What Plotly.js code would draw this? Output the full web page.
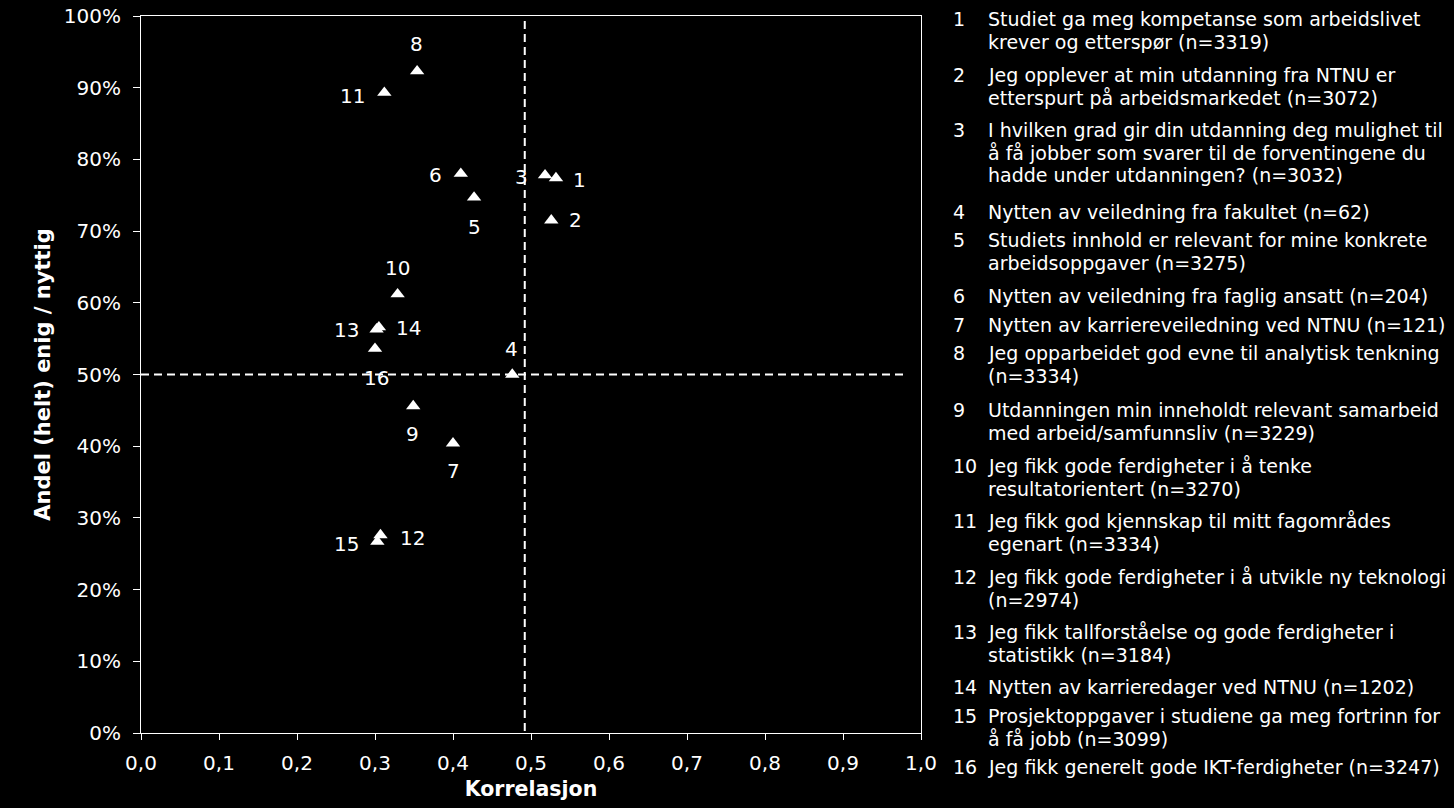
<!DOCTYPE html>
<html>
<head>
<meta charset="utf-8">
<script src="https://cdn.plot.ly/plotly-3.0.1.min.js"></script>
<style>
html,body{margin:0;padding:0;background:#000;}
#chart{width:1454px;height:808px;}
</style>
</head>
<body>
<div id="chart"></div>
<script>
// ---- data ----
const pointLabels = ['1','2','3','4','5','6','7','8','9','10','11','12','13','14','15','16'];
const correlation = [0.532,0.526,0.518,0.476,0.427,0.410,0.400,0.354,0.349,0.329,0.312,0.307,0.302,0.305,0.303,0.300];
const shareAgree = [77.4,71.5,77.8,50.0,74.7,78.0,40.4,92.3,45.6,61.2,89.3,27.6,56.3,56.6,26.7,53.6];
const refCorrelation = 0.492;
const refShare = 50;
const xTickVals = [0,0.1,0.2,0.3,0.4,0.5,0.6,0.7,0.8,0.9,1.0];
const xTickText = ['0,0','0,1','0,2','0,3','0,4','0,5','0,6','0,7','0,8','0,9','1,0'];
const yTickVals = [0,10,20,30,40,50,60,70,80,90,100];
const yTickText = ['0%','10%','20%','30%','40%','50%','60%','70%','80%','90%','100%'];
const legendNumbers = ['1','2','3','4','5','6','7','8','9','10','11','12','13','14','15','16'];
const legendTexts = [
  'Studiet ga meg kompetanse som arbeidslivet<br>krever og etterspør (n=3319)',
  'Jeg opplever at min utdanning fra NTNU er<br>etterspurt på arbeidsmarkedet (n=3072)',
  'I hvilken grad gir din utdanning deg mulighet til<br>å få jobber som svarer til de forventingene du<br>hadde under utdanningen? (n=3032)',
  'Nytten av veiledning fra fakultet (n=62)',
  'Studiets innhold er relevant for mine konkrete<br>arbeidsoppgaver (n=3275)',
  'Nytten av veiledning fra faglig ansatt (n=204)',
  'Nytten av karriereveiledning ved NTNU (n=121)',
  'Jeg opparbeidet god evne til analytisk tenkning<br>(n=3334)',
  'Utdanningen min inneholdt relevant samarbeid<br>med arbeid/samfunnsliv (n=3229)',
  'Jeg fikk gode ferdigheter i å tenke<br>resultatorientert (n=3270)',
  'Jeg fikk god kjennskap til mitt fagområdes<br>egenart (n=3334)',
  'Jeg fikk gode ferdigheter i å utvikle ny teknologi<br>(n=2974)',
  'Jeg fikk tallforståelse og gode ferdigheter i<br>statistikk (n=3184)',
  'Nytten av karrieredager ved NTNU (n=1202)',
  'Prosjektoppgaver i studiene ga meg fortrinn for<br>å få jobb (n=3099)',
  'Jeg fikk generelt gode IKT-ferdigheter (n=3247)'
];

// ---- layout / style ----
const W = 1454, H = 808;
const M = {l:141, r:533, t:16, b:75};
const plotW = W - M.l - M.r, plotH = H - M.t - M.b;
const FONT = 'DejaVu Sans, Verdana, sans-serif';
// label offsets (pixels) per point label
const labelOffset = {
  '1':[24,-2],'2':[24,0],'3':[-24,-2],'4':[-1,26],'5':[0,-30],'6':[-25,-1],
  '7':[0,-28],'8':[-1,27],'9':[-1,-28],'10':[0,26],'11':[-32,-3],'12':[32,-3],
  '13':[-30,-1],'14':[30,-1],'15':[-31,-2],'16':[1,-29]
};
// first-line centre (pixel y) of each legend entry
const legendLineY = [19,75,130,212,240,296,325,353,410,466,521,577,632,687,716,767];
const legendLineGap = 22.7;

const pxX = px => (px - M.l) / plotW;
const pxY = py => (M.t + plotH - py) / plotH;

const traces = [
  {
    x: [refCorrelation, refCorrelation], y: [99.3, 0], mode: 'lines',
    line: {color: '#fff', width: 2, dash: '8px,5px'}, hoverinfo: 'skip', showlegend: false
  },
  {
    x: [0, 0.982], y: [refShare, refShare], mode: 'lines',
    line: {color: '#fff', width: 2, dash: '8px,5px'}, hoverinfo: 'skip', showlegend: false
  },
  {
    x: correlation, y: shareAgree, mode: 'markers', text: pointLabels,
    marker: {symbol: 'triangle-up', size: 12.5, color: '#fff'},
    showlegend: false
  }
];

const annotations = [];
pointLabels.forEach((lab, i) => {
  const o = labelOffset[lab];
  annotations.push({
    x: correlation[i], y: shareAgree[i], xref: 'x', yref: 'y',
    text: lab, showarrow: false, xshift: o[0], yshift: o[1],
    font: {family: FONT, size: 20, color: '#fff'}
  });
});
legendNumbers.forEach((num, i) => {
  annotations.push({
    x: pxX(951), y: pxY(legendLineY[i]), xref: 'paper', yref: 'paper', xanchor: 'left', yanchor: 'middle',
    text: num, showarrow: false, align: 'left',
    font: {family: FONT, size: 19, color: '#fff'}
  });
  legendTexts[i].split('<br>').forEach((line, k) => {
    annotations.push({
      x: pxX(986), y: pxY(legendLineY[i] + k * legendLineGap), xref: 'paper', yref: 'paper',
      xanchor: 'left', yanchor: 'middle',
      text: line, showarrow: false, align: 'left',
      font: {family: FONT, size: 19, color: '#fff'}
    });
  });
});

const layout = {
  width: W, height: H,
  margin: M,
  paper_bgcolor: '#000', plot_bgcolor: '#000',
  font: {family: FONT, color: '#fff', size: 19},
  showlegend: false,
  xaxis: {
    range: [0, 1], tickvals: xTickVals, ticktext: xTickText,
    showgrid: false, zeroline: false, showline: true, mirror: true,
    linecolor: '#fff', linewidth: 1, ticks: 'outside', ticklen: 6, tickcolor: '#fff',
    ticklabelstandoff: 6,
    tickfont: {family: FONT, size: 20, color: '#fff'},
    title: {text: 'Korrelasjon', font: {family: FONT, size: 20.5, color: '#fff', weight: 'bold'}, standoff: 7}
  },
  yaxis: {
    range: [0, 100], tickvals: yTickVals, ticktext: yTickText,
    showgrid: false, zeroline: false, showline: true, mirror: true,
    linecolor: '#fff', linewidth: 1, ticks: 'outside', ticklen: 7, tickcolor: '#fff',
    ticklabelstandoff: 8,
    tickfont: {family: FONT, size: 20, color: '#fff'},
    title: {text: 'Andel (helt) enig / nyttig', font: {family: FONT, size: 21, color: '#fff', weight: 'bold'}, standoff: 7}
  },
  annotations: annotations
};

Plotly.newPlot('chart', traces, layout, {displayModeBar: false, staticPlot: true});
</script>
</body>
</html>
